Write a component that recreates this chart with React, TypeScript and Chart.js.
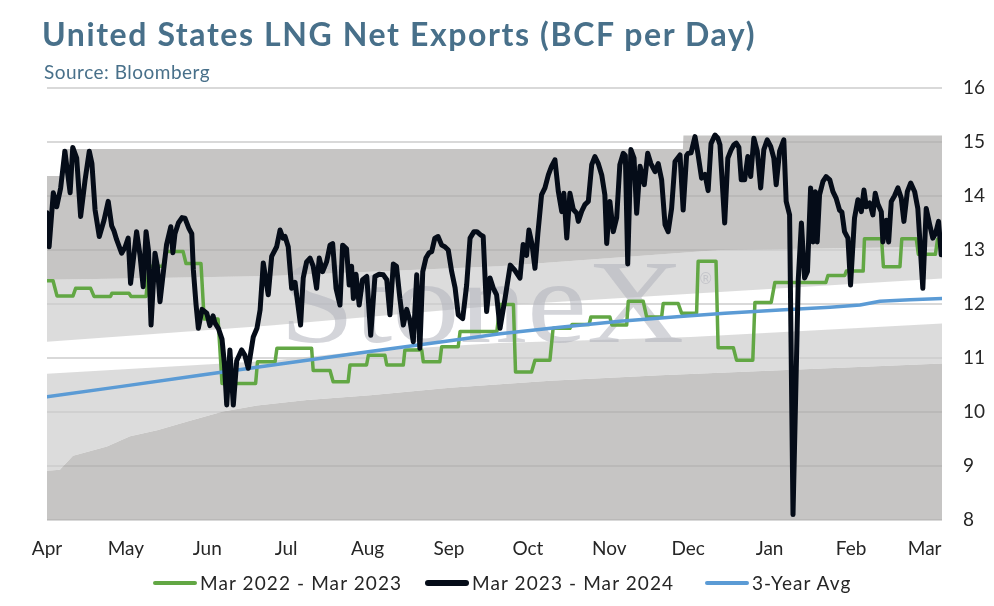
import React, { useEffect, useRef } from 'react';
import { Chart, registerables } from 'chart.js';

Chart.register(...registerables);

// x values are days counted from 1 April
const monthDays = [0, 30, 61, 91, 122, 153, 183, 214, 244, 275, 306, 334];
const monthLabels = ['Apr', 'May', 'Jun', 'Jul', 'Aug', 'Sep', 'Oct', 'Nov', 'Dec', 'Jan', 'Feb', 'Mar'];
const lastDay = 340.6;

// Mar 2023 - Mar 2024
const currentDays = [
  0, 0.8, 2.4, 3.7, 5.2, 6.8, 8.8, 9.8, 11.3, 12.8, 14.5, 16.1, 17.1, 18.3, 19.9, 21.7, 23.3, 24.6, 25.5, 26.5,
  28.4, 29.7, 30.9, 31.8, 34.1, 35.4, 36.6, 37.7, 38.6, 39.6, 41.1, 42.0, 43.0, 44.3, 45.5, 47.1, 47.9, 48.7, 50.0, 51.4,
  52.5, 54.0, 55.1, 55.7, 56.7, 57.6, 59.0, 60.8, 62.0, 63.2, 63.9, 65.2, 66.6, 67.5, 68.4, 69.6, 70.9, 72.2, 74.1, 75.3,
  76.6, 78.5, 79.9, 81.1, 82.3, 84.2, 85.5, 87.4, 88.7, 89.8, 90.6, 91.8, 93.1, 94.4, 95.0, 96.5, 97.5, 98.8, 100.1, 101.3,
  102.6, 103.6, 104.9, 106.4, 107.7, 108.7, 110.0, 111.5, 112.5, 114.0, 115.0, 115.9, 116.6, 117.6, 118.8, 120.1, 121.7, 123.2, 124.8, 126.4,
  128.0, 129.3, 130.5, 131.8, 133.0, 134.3, 135.6, 136.9, 138.1, 139.4, 140.7, 141.9, 143.0, 144.2, 145.4, 146.4, 147.6, 148.8, 150.2, 151.4,
  152.7, 154.0, 155.3, 156.5, 158.2, 159.7, 161.0, 162.5, 163.6, 165.0, 166.0, 167.3, 168.6, 169.8, 171.1, 172.4, 174.3, 176.3, 178.1, 180.0,
  181.2, 182.5, 183.4, 184.6, 185.7, 186.8, 188.2, 189.5, 190.8, 192.0, 193.3, 194.6, 195.9, 196.7, 197.8, 199.0, 200.3, 201.6, 202.2, 203.5,
  204.7, 206.0, 207.3, 208.5, 209.8, 211.1, 212.3, 213.0, 214.2, 215.5, 216.8, 218.0, 219.3, 220.1, 221.0, 222.2, 223.4, 224.4, 225.7, 227.3,
  228.6, 229.8, 231.4, 232.6, 233.9, 235.2, 236.4, 237.7, 239.0, 240.9, 242.1, 243.4, 244.0, 245.1, 246.6, 247.7, 249.1, 250.4, 251.6, 252.7,
  254.2, 255.3, 256.1, 257.9, 259.1, 260.3, 261.4, 262.3, 263.3, 264.2, 265.5, 266.7, 267.8, 269.0, 270.3, 271.6, 272.8, 274.1, 275.4, 276.6,
  277.5, 278.8, 280.4, 281.3, 282.6, 283.9, 285.9, 287.1, 288.3, 289.4, 290.6, 291.5, 292.4, 293.1, 294.0, 295.3, 296.5, 297.9, 299.1, 300.3,
  301.6, 302.5, 303.5, 304.8, 305.8, 307.3, 308.6, 309.9, 310.9, 311.8, 313.1, 314.3, 315.2, 316.2, 317.5, 318.1, 319.4, 320.3, 321.3, 322.5,
  323.8, 325.1, 326.1, 327.4, 328.7, 330.2, 331.4, 333.3, 334.6, 335.9, 337.1, 338.1, 339.3, 340.3,
];
const currentValues = [
  13.69, 13.06, 14.06, 13.8, 14.15, 14.83, 14.06, 14.9, 14.7, 13.62, 14.3, 14.83, 14.6, 13.74, 13.25, 13.55, 13.9, 13.45, 13.35, 13.19,
  12.94, 13.05, 13.22, 12.38, 13.34, 12.9, 12.32, 13.34, 13.0, 11.61, 12.94, 12.7, 12.04, 12.6, 13.1, 13.43, 12.95, 13.3, 13.5, 13.6,
  13.59, 13.4, 13.3, 12.63, 12.0, 11.55, 11.9, 11.83, 11.6, 11.78, 11.65, 11.55, 11.35, 10.9, 10.13, 11.15, 10.13, 10.95, 11.15, 11.05,
  10.81, 11.39, 11.55, 11.89, 12.76, 12.17, 12.88, 13.06, 13.37, 13.22, 13.25, 13.06, 12.29, 12.4, 12.17, 11.61, 12.48, 12.78, 12.85, 12.7,
  12.29, 12.85, 12.6, 12.78, 13.09, 13.12, 12.29, 11.98, 13.09, 13.02, 12.35, 12.7, 12.1, 12.55, 11.98, 12.45, 12.51, 11.42, 12.51, 12.55,
  12.54, 12.45, 11.8, 12.74, 12.7, 12.1, 11.61, 11.9, 11.7, 11.3, 12.54, 11.18, 12.6, 12.85, 12.95, 12.97, 13.22, 13.25, 13.09, 13.06,
  13.0, 12.6, 12.3, 11.8, 11.73, 12.35, 13.22, 13.34, 13.34, 13.28, 13.25, 11.86, 12.48, 12.3, 12.17, 11.55, 12.1, 12.72, 12.62, 12.48,
  13.1, 12.9, 13.37, 13.1, 12.66, 13.3, 14.02, 14.15, 14.39, 14.55, 14.67, 14.08, 13.71, 14.05, 13.22, 14.05, 13.75, 13.68, 13.53, 13.72,
  13.84, 13.9, 14.58, 14.73, 14.6, 14.39, 14.02, 13.12, 13.9, 13.34, 13.6, 14.58, 14.79, 14.75, 12.74, 14.86, 14.7, 13.68, 14.55, 14.21,
  14.79, 14.6, 14.45, 14.6, 14.3, 13.47, 13.34, 13.77, 14.64, 14.76, 13.74, 14.75, 14.79, 14.8, 15.1, 14.79, 14.33, 14.4, 14.1, 14.97,
  15.13, 15.07, 14.95, 13.5, 14.7, 14.85, 14.95, 14.98, 14.9, 14.3, 14.3, 14.73, 14.36, 15.07, 14.83, 14.15, 14.86, 15.04, 14.92, 14.7,
  14.21, 14.83, 15.04, 13.9, 13.65, 8.1, 12.45, 13.5, 12.48, 12.6, 14.15, 13.15, 14.08, 13.15, 14.02, 14.27, 14.36, 14.3, 14.08, 13.96,
  13.74, 13.7, 13.34, 13.22, 12.35, 13.59, 13.93, 13.71, 14.11, 13.8, 13.87, 13.65, 14.05, 13.85, 13.71, 13.15, 13.55, 13.15, 13.9, 14.0,
  14.15, 13.96, 13.53, 14.08, 14.24, 14.08, 13.77, 12.29, 13.77, 13.47, 13.22, 13.3, 13.53, 12.91,
];

// Mar 2022 - Mar 2023 (weekly steps: start and end of each step)
const previousDays = [
  0, 2.3, 3.8, 9.9, 10.9, 16.6, 17.9, 24.2, 24.7, 31.2, 32.0, 37.7, 38.8, 44.1, 45.3, 51.8, 52.9, 58.6, 59.8, 65.1,
  66.6, 79.4, 80.1, 86.8, 87.5, 100.7, 101.3, 107.7, 108.9, 114.6, 115.3, 121.6, 122.3, 128.6, 129.3, 135.6, 136.2, 142.6, 143.2, 149.5,
  150.2, 156.5, 157.2, 171.2, 172.4, 177.5, 178.3, 184.4, 185.7, 191.4, 192.6, 199.0, 199.8, 206.3, 207.0, 214.2, 215.0, 220.6, 221.2, 226.9,
  228.2, 233.9, 234.5, 240.2, 241.5, 247.2, 247.8, 254.6, 255.4, 261.2, 262.4, 268.6, 269.4, 275.6, 277.0, 296.4, 297.2, 303.6, 304.2, 310.6,
  311.1, 317.6, 318.3, 324.6, 325.3, 330.8, 331.6, 338.1, 338.9, 340.6,
];
const previousValues = [
  12.43, 12.43, 12.15, 12.15, 12.29, 12.29, 12.14, 12.14, 12.2, 12.2, 12.14, 12.14, 12.7, 12.7, 12.97, 12.97, 12.75, 12.75, 11.72, 11.72,
  10.53, 10.53, 10.93, 10.93, 11.18, 11.18, 10.77, 10.77, 10.56, 10.56, 10.87, 10.87, 11.05, 11.05, 10.87, 10.87, 11.15, 11.15, 10.93, 10.93,
  11.21, 11.21, 11.49, 11.49, 11.99, 11.99, 10.74, 10.74, 10.96, 10.96, 11.55, 11.55, 11.62, 11.62, 11.76, 11.76, 11.61, 11.61, 12.05, 12.05,
  11.76, 11.76, 12.01, 12.01, 11.83, 11.83, 12.79, 12.79, 11.19, 11.19, 10.96, 10.96, 12.03, 12.03, 12.4, 12.4, 12.53, 12.53, 12.61, 12.61,
  13.21, 13.21, 12.69, 12.69, 13.21, 13.21, 12.92, 12.92, 13.2, 13.2,
];

// 3-Year Avg
const avgDays = [0, 27.8, 58.2, 88.7, 122.9, 153.3, 172.4, 195.2, 218.0, 240.9, 258.0, 278.9, 298.0, 309.4, 317.0, 328.4, 340.6];
const avgValues = [10.28, 10.47, 10.68, 10.89, 11.12, 11.32, 11.45, 11.57, 11.68, 11.77, 11.83, 11.89, 11.94, 11.98, 12.05, 12.08, 12.1];

// shaded range, top to bottom
const maxDays = [0, 5.6, 5.8, 242, 242.2, 340.6];
const maxValues = [14.37, 14.37, 14.87, 14.87, 15.12, 15.12];
const upperDays = [0, 30, 85, 172, 256, 340.6];
const upperValues = [12.45, 12.47, 12.52, 12.7, 13.0, 13.06];
const innerTopDays = [0, 85, 172, 256, 340.6];
const innerTopValues = [11.3, 11.6, 11.97, 12.22, 12.47];
const innerBottomDays = [0, 85, 119, 172, 245, 340.6];
const innerBottomValues = [10.71, 10.95, 11.12, 11.28, 11.39, 11.64];
const lowerDays = [0, 4.9, 7.2, 9.9, 22.8, 31.6, 41.9, 54.4, 67, 79.9, 98.9, 122.9, 153.3, 191.4, 233.3, 340.6];
const lowerValues = [8.91, 8.93, 9.05, 9.19, 9.36, 9.55, 9.66, 9.84, 10.01, 10.12, 10.22, 10.31, 10.45, 10.58, 10.68, 10.9];

const GREEN = '#62a744';
const BLACK = '#050c18';
const BLUE = '#5b9bd5';
const DARK_BAND = 'rgba(172,171,170,0.69)';
const LIGHT_BAND = 'rgba(204,204,204,0.68)';
const TEXT = '#262626';
const FONT = 'Lato, "Noto Sans", sans-serif';

const toPoints = (days: number[], values: number[]) => days.map((x, i) => ({ x, y: values[i] }));

const band = (label: string, days: number[], values: number[], fill: any, color: string) => ({
  label,
  data: toPoints(days, values),
  borderColor: 'rgba(0,0,0,0)',
  borderWidth: 0,
  backgroundColor: color,
  pointRadius: 0,
  pointHoverRadius: 0,
  fill,
  order: 10,
});

const line = (label: string, days: number[], values: number[], color: string, width: number, order: number) => ({
  label,
  data: toPoints(days, values),
  borderColor: color,
  backgroundColor: color,
  borderWidth: width,
  borderJoinStyle: 'round' as const,
  borderCapStyle: 'round' as const,
  pointRadius: 0,
  pointHoverRadius: 0,
  fill: false,
  order,
});

// StoneX watermark, painted over the shading but under the lines
const watermark = {
  id: 'watermark',
  afterDatasetDraw(chart: any, args: any) {
    if (args.index !== 3) return;
    const { ctx, chartArea } = chart;
    const w = chartArea.right - chartArea.left;
    const h = chartArea.bottom - chartArea.top;
    const left = chartArea.left + w * 0.26;
    const width = w * 0.452;
    const base = chartArea.top + h * 0.588;
    ctx.save();
    ctx.fillStyle = 'rgba(176,179,188,0.55)';
    ctx.font = '118px "Liberation Serif", "DejaVu Serif", serif';
    ctx.textBaseline = 'alphabetic';
    const tw = ctx.measureText('StoneX').width;
    ctx.translate(left, base);
    ctx.scale(width / tw, 1);
    ctx.fillText('StoneX', 0, 0);
    ctx.restore();
    ctx.save();
    ctx.fillStyle = 'rgba(176,179,188,0.55)';
    ctx.font = '15px "DejaVu Sans", sans-serif';
    ctx.fillText('\u00AE', left + width + 14, base - 58);
    ctx.restore();
  },
};

const ExportsChart: React.FC = () => {
  const chartRef = useRef<HTMLCanvasElement>(null);
  const chartInstance = useRef<Chart | null>(null);

  useEffect(() => {
    if (chartInstance.current) {
      chartInstance.current.destroy();
    }
    if (!chartRef.current) return;
    const ctx = chartRef.current.getContext('2d');
    if (!ctx) return;

    chartInstance.current = new Chart(ctx, {
      type: 'line',
      data: {
        datasets: [
          line('Mar 2022 - Mar 2023', previousDays, previousValues, GREEN, 3.5, 2),
          line('Mar 2023 - Mar 2024', currentDays, currentValues, BLACK, 5, 0),
          line('3-Year Avg', avgDays, avgValues, BLUE, 3.5, 1),
          band('max', maxDays, maxValues, 4, DARK_BAND),
          band('upper', upperDays, upperValues, 5, LIGHT_BAND),
          band('innerTop', innerTopDays, innerTopValues, false, 'rgba(0,0,0,0)'),
          band('innerBottom', innerBottomDays, innerBottomValues, 7, LIGHT_BAND),
          band('lower', lowerDays, lowerValues, 'start', DARK_BAND),
        ] as any,
      },
      options: {
        animation: false,
        responsive: true,
        maintainAspectRatio: false,
        events: [],
        layout: { padding: { left: 47, right: 0, top: 88, bottom: 26 } },
        plugins: {
          legend: { display: false },
          tooltip: { enabled: false },
        },
        scales: {
          x: {
            type: 'linear',
            min: 0,
            max: lastDay,
            grid: { display: false },
            border: { display: false },
            afterBuildTicks: (scale: any) => {
              scale.ticks = monthDays.map((value) => ({ value }));
            },
            afterFit: (scale: any) => {
              scale.height = 60;
            },
            ticks: {
              autoSkip: false,
              maxRotation: 0,
              padding: 9,
              color: TEXT,
              font: { family: FONT, size: 19 },
              callback: (_v: any, i: number) => monthLabels[i],
            },
          },
          y: {
            type: 'linear',
            position: 'right',
            min: 8,
            max: 16,
            grid: { color: '#d9d9d9', lineWidth: 2, drawTicks: false },
            border: { display: false },
            afterFit: (scale: any) => {
              scale.width = 52;
            },
            ticks: {
              stepSize: 1,
              padding: 21,
              color: TEXT,
              font: { family: FONT, size: 19 },
            },
          },
        },
      },
      plugins: [watermark],
    });

    return () => {
      if (chartInstance.current) {
        chartInstance.current.destroy();
        chartInstance.current = null;
      }
    };
  }, []);

  return <canvas ref={chartRef}></canvas>;
};

const legendItems = [
  { label: 'Mar 2022 - Mar 2023', color: GREEN, left: 153, thick: 4 },
  { label: 'Mar 2023 - Mar 2024', color: BLACK, left: 425, thick: 6 },
  { label: '3-Year Avg', color: BLUE, left: 705, thick: 4 },
];

const App: React.FC = () => {
  return (
    <div style={{ position: 'fixed', left: 0, top: 0, width: 994, height: 606, background: '#fff', fontFamily: FONT }}>
      <div style={{ position: 'absolute', left: 0, top: 0, width: 994, height: 606 }}>
        <ExportsChart />
      </div>
      <div
        style={{
          position: 'absolute', left: 42, top: 18, fontSize: 32, lineHeight: '32px', letterSpacing: '1.6px',
          fontWeight: 700, color: '#48708a', whiteSpace: 'nowrap',
        }}
      >
        United States LNG Net Exports (BCF per Day)
      </div>
      <div
        style={{
          position: 'absolute', left: 44, top: 62, fontSize: 19, lineHeight: '19px', letterSpacing: '0.5px',
          color: '#48708a', whiteSpace: 'nowrap',
        }}
      >
        Source: Bloomberg
      </div>
      {legendItems.map((item) => (
        <div
          key={item.label}
          style={{
            position: 'absolute', left: item.left, top: 573, height: 19, display: 'flex',
            alignItems: 'center', fontSize: 19, lineHeight: '19px', letterSpacing: '1.1px',
            color: TEXT, whiteSpace: 'nowrap',
          }}
        >
          <span style={{ display: 'inline-block', width: 44, height: item.thick, borderRadius: 3, background: item.color, marginRight: 3 }} />
          {item.label}
        </div>
      ))}
    </div>
  );
};

export default App;
